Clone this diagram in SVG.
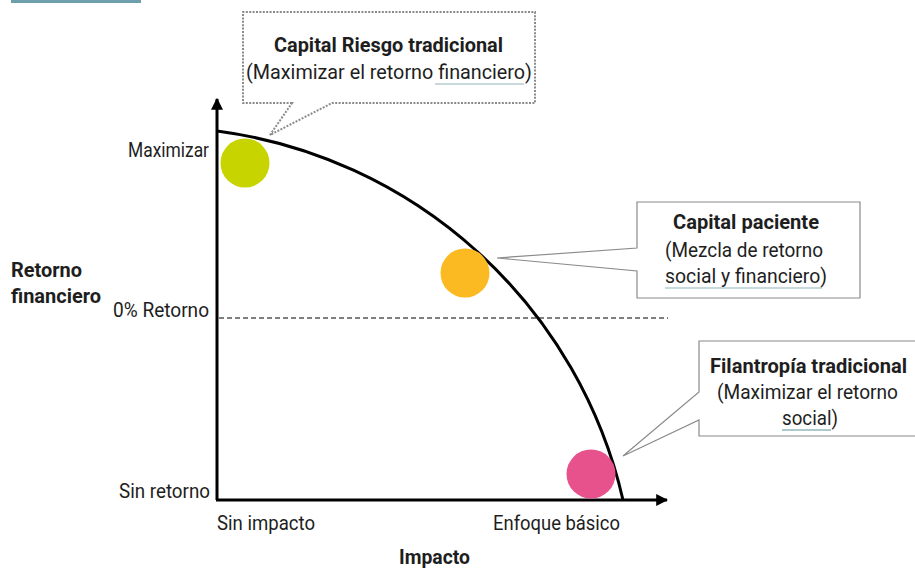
<svg xmlns="http://www.w3.org/2000/svg" width="915" height="572" viewBox="0 0 915 572">
  <style>
    text { font-family: Roboto, "Liberation Sans", sans-serif; font-size: 20px; fill: #1e1e1e; }
    .b { font-weight: bold; }
    .axis { stroke: #000; stroke-width: 3; fill: none; }
    .callout { fill: #fff; stroke: #8a8a8a; stroke-width: 1.2; }
    .dotted { fill: #fff; stroke: #8a8a8a; stroke-width: 2; stroke-dasharray: 2 1.4; }
    .ul { stroke: #8fb4b9; stroke-width: 1.2; }
    .ul2 { stroke: #5f939b; stroke-width: 1.2; }
  </style>
  <defs>
    <marker id="arrow" viewBox="0 0 10 10" refX="9" refY="5" markerWidth="4" markerHeight="4" markerUnits="strokeWidth" orient="auto">
      <path d="M0 0 L10 5 L0 10 Z" fill="#000"/>
    </marker>
  </defs>

  <rect x="0" y="0" width="915" height="572" fill="#fff"/>
  <!-- header accent bar -->
  <rect x="11" y="0" width="130" height="3" fill="#6f9fac"/>

  <!-- axes, reference line and frontier curve -->
  <g id="connectors">
    <line class="axis" x1="217" y1="500" x2="217" y2="99" marker-end="url(#arrow)"/>
    <line class="axis" x1="216" y1="500" x2="667" y2="500" marker-end="url(#arrow)"/>
    <line x1="219" y1="318" x2="668" y2="318" stroke="#555" stroke-width="1.3" stroke-dasharray="5 3"/>
    <path d="M217 131 A481.4 481.4 0 0 1 623 500" fill="none" stroke="#000" stroke-width="3"/>
  </g>

  <!-- axis labels -->
  <g id="axis-labels">
    <text x="128" y="157" textLength="81" lengthAdjust="spacingAndGlyphs">Maximizar</text>
    <text x="113" y="317" textLength="96" lengthAdjust="spacingAndGlyphs">0% Retorno</text>
    <text x="119" y="498" textLength="91" lengthAdjust="spacingAndGlyphs">Sin retorno</text>
    <text class="b" x="11" y="277" textLength="71" lengthAdjust="spacingAndGlyphs">Retorno</text>
    <text class="b" x="11" y="303" textLength="90" lengthAdjust="spacingAndGlyphs">financiero</text>
    <text x="217" y="530" textLength="98" lengthAdjust="spacingAndGlyphs">Sin impacto</text>
    <text x="493" y="530" textLength="127" lengthAdjust="spacingAndGlyphs">Enfoque básico</text>
    <text class="b" x="399" y="564" textLength="71" lengthAdjust="spacingAndGlyphs">Impacto</text>
  </g>

  <!-- investment positions -->
  <g id="node-venture">
    <circle cx="245" cy="163" r="24.5" fill="#c8d400"/>
  </g>
  <g id="node-patient">
    <circle cx="465" cy="273" r="24.5" fill="#fbba22"/>
  </g>
  <g id="node-philanthropy">
    <circle cx="591" cy="474" r="24.5" fill="#e8528c"/>
  </g>

  <!-- callouts -->
  <g id="callout-venture">
    <path class="dotted" d="M292 103 H243 V12 H535 V103 H332 L270 135 Z"/>
    <text class="b" x="274" y="52" textLength="229" lengthAdjust="spacingAndGlyphs">Capital Riesgo tradicional</text>
    <text x="246" y="79" textLength="286" lengthAdjust="spacingAndGlyphs">(Maximizar el retorno financiero)</text>
    <line class="ul" x1="435" y1="84" x2="524" y2="84"/>
  </g>

  <g id="callout-patient">
    <path class="callout" d="M637 248 V202 H860 V298 H637 V271 L497 258 Z"/>
    <text class="b" x="673" y="229" textLength="146" lengthAdjust="spacingAndGlyphs">Capital paciente</text>
    <text x="665" y="257" textLength="158" lengthAdjust="spacingAndGlyphs">(Mezcla de retorno</text>
    <text x="665" y="283" textLength="162" lengthAdjust="spacingAndGlyphs">social y financiero)</text>
    <line class="ul" x1="665" y1="288" x2="822" y2="288"/>
  </g>

  <g id="callout-philanthropy">
    <path class="callout" d="M699 392 V341 H930 V436 H699 V420 L623 456 Z"/>
    <text class="b" x="710" y="373" textLength="197" lengthAdjust="spacingAndGlyphs">Filantropía tradicional</text>
    <text x="717" y="399" textLength="181" lengthAdjust="spacingAndGlyphs">(Maximizar el retorno</text>
    <text x="782" y="425" textLength="56" lengthAdjust="spacingAndGlyphs">social)</text>
    <line class="ul2" x1="782" y1="430" x2="831" y2="430"/>
  </g>
</svg>
